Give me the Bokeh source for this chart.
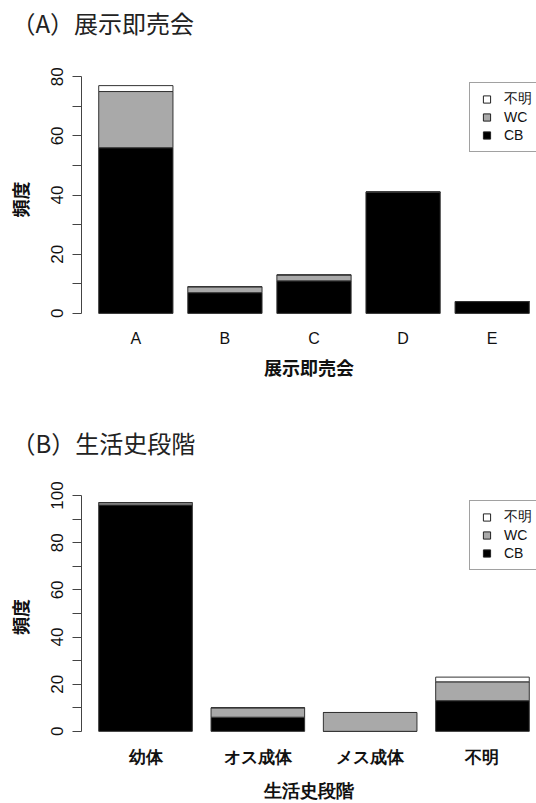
from bokeh.plotting import figure
from bokeh.models import Range1d, FixedTicker, Legend, LegendItem, ColumnDataSource
from bokeh.core.properties import value
from bokeh.layouts import column
from bokeh.embed import file_html
from bokeh.resources import INLINE

# ---- Panel A data: 展示即売会 ----
fairs = ["A", "B", "C", "D", "E"]
fair_cb = [56, 7, 11, 41, 4]
fair_wc = [19, 2, 2, 0, 0]
fair_unk = [2, 0, 0, 0, 0]
fair_yticks = [0, 20, 40, 60, 80]
fair_yminor = [10, 30, 50, 70]

# ---- Panel B data: 生活史段階 ----
stages = ["幼体", "オス成体", "メス成体", "不明"]
stage_cb = [96, 6, 0, 13]
stage_wc = [1, 4, 8, 8]
stage_unk = [0, 0, 0, 2]
stage_yticks = [0, 20, 40, 60, 80, 100]
stage_yminor = [10, 30, 50, 70, 90]

titles = ["（A）展示即売会", "（B）生活史段階"]
legend_labels = ["不明", "WC", "CB"]
colors = {"CB": "black", "WC": "#a9a9a9", "不明": "white"}

W = 536
LEFT = 81
FRAME_W = W - LEFT
R_REGION_W = 465.0  # width of the original plotting region (cropped at right)
CJK = "Noto Sans CJK JP"
LAT = "Liberation Sans"


def title_fig(text, height, from_top):
    t = figure(width=W, height=height, output_backend="svg", toolbar_location=None,
               x_range=Range1d(0, W), y_range=Range1d(0, height),
               x_axis_type=None, y_axis_type=None, min_border=0,
               min_border_left=0, min_border_right=0, min_border_top=0, min_border_bottom=0,
               frame_align=False)
    t.outline_line_color = None
    t.grid.visible = False
    src = ColumnDataSource(dict(x=[11], y=[height - from_top], t=[text]))
    t.text(x="x", y="y", text="t", source=src, text_font=value(CJK),
           text_font_size="24px", text_baseline="middle", text_align="left",
           text_color="#222222")
    return t


def panel(cats, cb, wc, unk, yticks, yminor, xlabel, height, btop, bbottom,
          tick_font, tick_size, tick_style, tick_standoff, label_font, label_standoff):
    n = len(cats)
    centers = [round(0.7 + 1.2 * i, 6) for i in range(n)]
    totals = [a + b + c for a, b, c in zip(cb, wc, unk)]
    ymax = max(totals)
    span = 1.2 * n - 0.2
    pad = 0.04 * span
    xs = 0.2 - pad
    xe = xs + span * 1.08 * FRAME_W / R_REGION_W

    p = figure(width=W, height=height, output_backend="svg", toolbar_location=None,
               x_range=Range1d(xs, xe), y_range=Range1d(-0.04 * ymax, 1.04 * ymax),
               min_border_left=LEFT, min_border_right=0, min_border_top=btop,
               min_border_bottom=bbottom, frame_align=False)
    p.outline_line_color = None
    p.grid.visible = False
    p.background_fill_color = "white"
    p.border_fill_color = "white"

    src = ColumnDataSource(dict(x=centers, cb=cb, wc=wc, unk=unk))
    p.vbar_stack(["cb", "wc", "unk"], x="x", width=1.0, source=src,
                 fill_color=[colors["CB"], colors["WC"], colors["不明"]],
                 line_color="#333333", line_width=1)

    # x axis (names only)
    xa = p.xaxis[0]
    xa.ticker = FixedTicker(ticks=centers)
    xa.major_label_overrides = {c: lab for c, lab in zip(centers, cats)}
    xa.axis_line_color = None
    xa.major_tick_line_color = None
    xa.minor_tick_line_color = None
    xa.major_tick_out = 0
    xa.major_tick_in = 0
    xa.major_label_standoff = tick_standoff
    xa.major_label_text_font = tick_font
    xa.major_label_text_font_size = tick_size
    xa.major_label_text_font_style = tick_style
    xa.major_label_text_color = "#111111"
    xa.axis_label = xlabel
    xa.axis_label_standoff = label_standoff
    xa.axis_label_text_font = label_font
    xa.axis_label_text_font_style = "bold"
    xa.axis_label_text_font_size = "18px"
    xa.axis_label_text_color = "#111111"

    # y axis
    ya = p.yaxis[0]
    ya.ticker = FixedTicker(ticks=yticks, minor_ticks=yminor)
    ya.bounds = (yticks[0], yticks[-1])
    ya.axis_line_color = "#444444"
    ya.major_tick_line_color = "#444444"
    ya.minor_tick_line_color = "#444444"
    ya.major_tick_out = 9
    ya.major_tick_in = 0
    ya.minor_tick_out = 9
    ya.minor_tick_in = 0
    ya.major_label_orientation = "vertical"
    ya.major_label_standoff = 9
    ya.major_label_text_font = LAT
    ya.major_label_text_font_size = "17px"
    ya.major_label_text_color = "#111111"
    ya.axis_label = "頻度"
    ya.axis_label_standoff = 16
    ya.axis_label_text_font = CJK
    ya.axis_label_text_font_style = "bold"
    ya.axis_label_text_font_size = "18px"
    ya.axis_label_text_color = "#111111"

    # legend
    items = []
    for lab in legend_labels:
        r = p.scatter(x=[0.0], y=[float("nan")], marker="square", fill_color=colors[lab],
                      line_color="#222222", line_width=1)
        items.append(LegendItem(label=lab, renderers=[r]))
    leg = Legend(items=items, location=(388, 170), padding=7, spacing=0,
                 glyph_width=19, glyph_height=18, label_height=18, label_standoff=8,
                 label_text_font=LAT, label_text_font_size="14px",
                 label_text_color="#111111",
                 border_line_color="#444444", border_line_width=1,
                 background_fill_color="white", background_fill_alpha=1.0, margin=0)
    p.add_layout(leg, "center")
    return p


ta = title_fig(titles[0], 50, 22)
pa = panel(fairs, fair_cb, fair_wc, fair_unk, fair_yticks, fair_yminor,
           "展示即売会", 350, 26, 78, LAT, "16px", "normal", 7, CJK, 4)
tb = title_fig(titles[1], 60, 42)
pb = panel(stages, stage_cb, stage_wc, stage_unk, stage_yticks, stage_yminor,
           "生活史段階", 343, 33, 61, LAT, "17px", "bold", 7, LAT, 11)

layout = column(ta, pa, tb, pb, spacing=0)
open("out.html", "w").write(file_html(layout, INLINE))
